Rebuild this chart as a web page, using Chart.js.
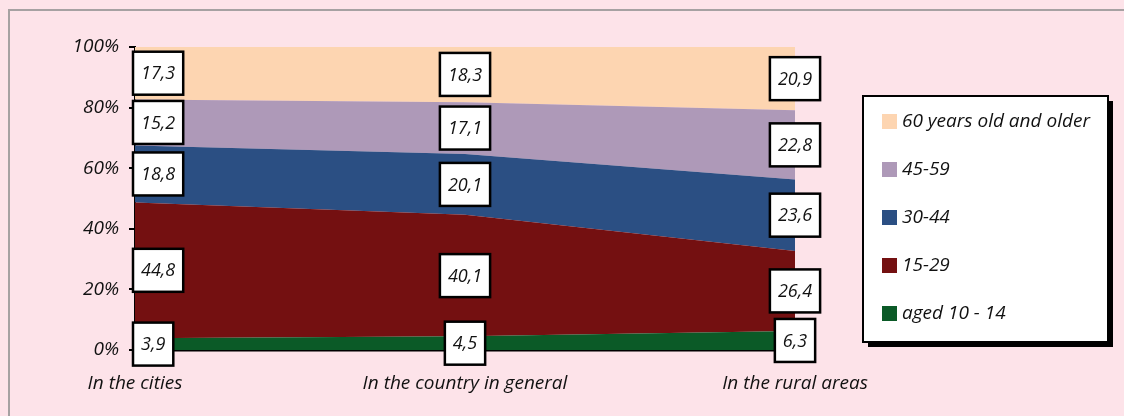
<!DOCTYPE html>
<html lang="en">
<head>
<meta charset="UTF-8">
<title>Age structure</title>
<script src="https://cdn.jsdelivr.net/npm/chart.js"></script>
<style>
    html, body {
        margin: 0;
        padding: 0;
        background: #fde3e9;
        overflow: hidden;
    }
    .frame {
        position: absolute;
        left: 8px;
        top: 9px;
        width: 1130px;
        height: 420px;
        border: 2px solid #a6a1a2;
        box-sizing: border-box;
    }
    .wrap {
        position: absolute;
        left: 0;
        top: 0;
        width: 1124px;
        height: 416px;
    }
</style>
</head>
<body>
<div class="frame"></div>
<div class="wrap"><canvas id="chart" width="1124" height="416"></canvas></div>

<script>
// data (bottom of the stack first)
const categories = ['In the cities', 'In the country in general', 'In the rural areas'];
const seriesNames = ['aged 10 - 14', '15-29', '30-44', '45-59', '60 years old and older'];
const aged10to14 = [3.9, 4.5, 6.3];
const aged15to29 = [44.8, 40.1, 26.4];
const aged30to44 = [18.8, 20.1, 23.6];
const aged45to59 = [15.2, 17.1, 22.8];
const aged60plus = [17.3, 18.3, 20.9];
const yTicks = [0, 20, 40, 60, 80, 100];

const colors = ['#0b5a27', '#741011', '#2b4f83', '#ae99b8', '#fdd5b1'];
const FONT = '"Open Sans", "DejaVu Sans", sans-serif';

const seriesValues = [aged10to14, aged15to29, aged30to44, aged45to59, aged60plus];

// value boxes in the middle of each band
const boxLabels = {
    id: 'boxLabels',
    afterDatasetsDraw(chart) {
        const ctx = chart.ctx;
        const area = chart.chartArea;
        const y = chart.scales.y;
        ctx.save();
        ctx.font = 'italic 18px ' + FONT;
        ctx.textAlign = 'center';
        ctx.textBaseline = 'middle';
        chart.data.datasets.forEach((ds, i) => {
            const meta = chart.getDatasetMeta(i);
            meta.data.forEach((pt, j) => {
                const below = i === 0 ? y.getPixelForValue(0) : chart.getDatasetMeta(i - 1).data[j].y;
                const cy = (pt.y + below) / 2;
                const text = ds.data[j].toFixed(1).replace('.', ',');
                const w = ctx.measureText(text).width + 16;
                const h = 43;
                let cx = pt.x;
                if (cx - w / 2 < area.left - 2) cx = area.left - 2 + w / 2;
                ctx.fillStyle = '#ffffff';
                ctx.fillRect(cx - w / 2, cy - h / 2, w, h);
                ctx.lineWidth = 2.5;
                ctx.strokeStyle = '#000';
                ctx.strokeRect(cx - w / 2, cy - h / 2, w, h);
                ctx.fillStyle = '#111';
                ctx.fillText(text, cx, cy + 1);
            });
        });
        ctx.restore();
    }
};

// boxed legend on the right, top item = top band
const boxLegend = {
    id: 'boxLegend',
    afterDraw(chart) {
        const ctx = chart.ctx;
        const x = 863, top = 96, w = 245, h = 246;
        ctx.save();
        ctx.fillStyle = '#000';
        ctx.fillRect(x + 5, top + 5, w, h);
        ctx.fillStyle = '#fff';
        ctx.fillRect(x, top, w, h);
        ctx.lineWidth = 2;
        ctx.strokeStyle = '#000';
        ctx.strokeRect(x, top, w, h);
        ctx.font = 'italic 19px ' + FONT;
        ctx.textBaseline = 'middle';
        ctx.textAlign = 'left';
        const items = chart.data.datasets.slice().reverse();
        items.forEach((ds, k) => {
            const cy = 122 + k * 48;
            ctx.fillStyle = ds.backgroundColor;
            ctx.fillRect(882, cy - 8, 15, 15);
            ctx.fillStyle = '#111';
            ctx.fillText(ds.label, 902, cy);
        });
        ctx.restore();
    }
};

new Chart(document.getElementById('chart'), {
    type: 'line',
    data: {
        labels: categories,
        datasets: seriesValues.map((vals, i) => ({
            label: seriesNames[i],
            data: vals,
            backgroundColor: colors[i],
            borderColor: colors[i],
            borderWidth: 0,
            pointRadius: 0,
            tension: 0,
            fill: i === 0 ? 'origin' : '-1'
        }))
    },
    options: {
        responsive: false,
        animation: false,
        layout: { padding: { top: 47, right: 329, left: 0, bottom: 0 } },
        plugins: {
            legend: { display: false },
            tooltip: { enabled: false }
        },
        scales: {
            x: {
                offset: false,
                grid: { display: false, drawTicks: false },
                border: { color: '#000', width: 2.5 },
                ticks: {
                    color: '#111',
                    padding: 22,
                    maxRotation: 0,
                    font: { family: FONT, size: 19, style: 'italic' }
                },
                afterFit(s) { s.height = 66; }
            },
            y: {
                stacked: true,
                min: 0,
                max: 100,
                afterBuildTicks(s) { s.ticks = yTicks.map(v => ({ value: v })); },
                grid: { drawOnChartArea: false, drawTicks: true, tickLength: 6, color: '#000', lineWidth: 2 },
                border: { color: '#000', width: 2 },
                ticks: {
                    color: '#111',
                    padding: 10,
                    font: { family: FONT, size: 19, style: 'italic' },
                    callback: v => v + '%'
                },
                afterFit(s) { s.width = 135; }
            }
        }
    },
    plugins: [boxLabels, boxLegend]
});
</script>
</body>
</html>
